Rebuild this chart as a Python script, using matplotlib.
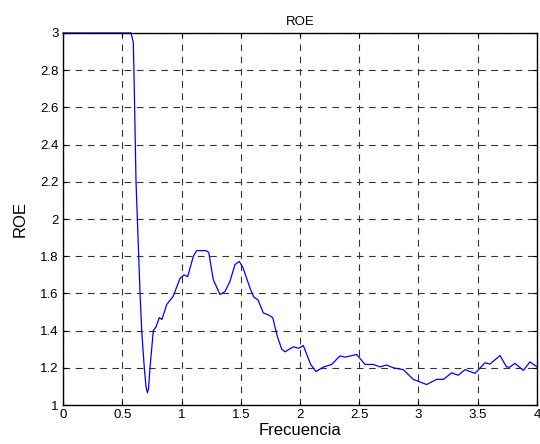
import numpy as np
import matplotlib
matplotlib.use("Agg")
import matplotlib.pyplot as plt

plt.rcParams['font.family'] = ['Liberation Sans', 'DejaVu Sans']

# frequency / ROE
frec = [0.0, 0.574, 0.593, 0.600, 0.616, 0.650, 0.664, 0.686, 0.700, 0.712, 0.722,
        0.734, 0.762, 0.785, 0.813, 0.835, 0.875, 0.93, 0.987, 1.021, 1.052, 1.10,
        1.128, 1.207, 1.23, 1.268, 1.325, 1.367, 1.409, 1.451, 1.488, 1.52, 1.578,
        1.61, 1.646, 1.69, 1.73, 1.77, 1.808, 1.846, 1.874, 1.944, 1.99, 2.028,
        2.09, 2.135, 2.197, 2.267, 2.337, 2.38, 2.478, 2.549, 2.62, 2.675, 2.73,
        2.788, 2.872, 2.956, 3.069, 3.153, 3.21, 3.28, 3.336, 3.392, 3.435, 3.477,
        3.561, 3.603, 3.688, 3.744, 3.772, 3.814, 3.885, 3.941, 4.0]
roe = [3.0, 3.0, 2.95, 2.75, 2.2, 1.6, 1.4, 1.2, 1.1, 1.066, 1.09,
       1.2, 1.4, 1.42, 1.47, 1.46, 1.54, 1.585, 1.68, 1.70, 1.69, 1.80,
       1.83, 1.83, 1.82, 1.674, 1.594, 1.61, 1.665, 1.755, 1.772, 1.736, 1.629,
       1.58, 1.565, 1.495, 1.485, 1.47, 1.37, 1.30, 1.286, 1.313, 1.305, 1.32,
       1.218, 1.18, 1.204, 1.218, 1.264, 1.257, 1.272, 1.218, 1.218, 1.205, 1.215,
       1.2, 1.19, 1.138, 1.11, 1.138, 1.138, 1.173, 1.16, 1.19, 1.18, 1.17,
       1.227, 1.22, 1.266, 1.204, 1.204, 1.224, 1.186, 1.232, 1.205]

xticks = [0, 0.5, 1, 1.5, 2, 2.5, 3, 3.5, 4]
xticklabels = ['0', '0.5', '1', '1.5', '2', '2.5', '3', '3.5', '4']
yticks = [1, 1.2, 1.4, 1.6, 1.8, 2, 2.2, 2.4, 2.6, 2.8, 3]
yticklabels = ['1', '1.2', '1.4', '1.6', '1.8', '2', '2.2', '2.4', '2.6', '2.8', '3']

fig = plt.figure(figsize=(5.4, 4.44), dpi=100)
ax = fig.add_axes([0.1167, 0.0878, 0.8777, 0.8379])
ax.plot(frec, roe, color='#0000ff', linewidth=0.9, clip_on=False)
ax.set_xlim(0, 4)
ax.set_ylim(1, 3)
ax.set_xticks(xticks)
ax.set_xticklabels(xticklabels)
ax.set_yticks(yticks)
ax.set_yticklabels(yticklabels)
ax.tick_params(direction='in', top=True, right=True, labelsize=9.5, length=3, width=0.8, pad=3)
ax.grid(True, color='#333333', linestyle=(0, (6, 5)), linewidth=0.8)
for s in ax.spines.values():
    s.set_linewidth(1.0)
ax.set_title('ROE', fontsize=9.5, pad=6)
ax.set_xlabel('Frecuencia', fontsize=12, labelpad=1)
ax.set_ylabel('ROE', fontsize=12, labelpad=9)
fig.savefig('out.png', dpi=100)
